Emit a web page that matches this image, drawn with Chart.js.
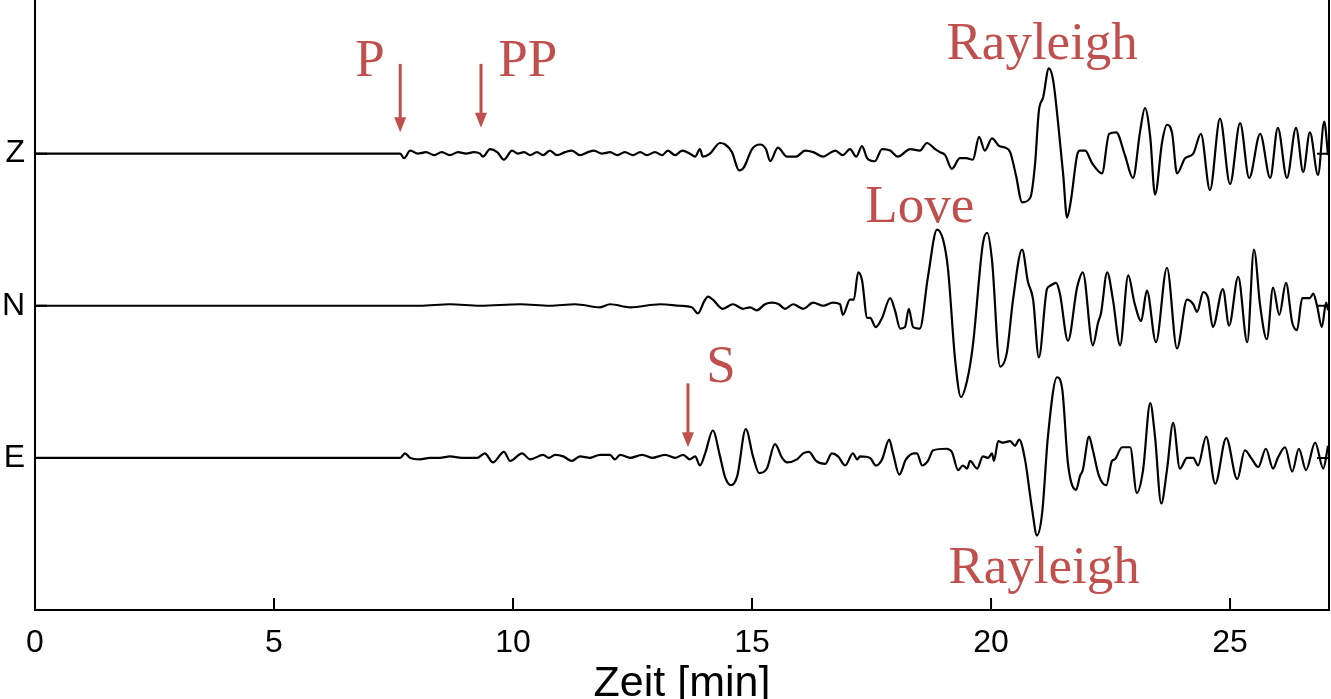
<!DOCTYPE html>
<html>
<head>
<meta charset="utf-8">
<script src="https://cdn.jsdelivr.net/npm/chart.js@4.4.1/dist/chart.umd.min.js"></script>
<style>
  html, body { margin: 0; padding: 0; background: #fff; }
  #wrap { width: 1331px; height: 699px; }
</style>
</head>
<body>
<div id="wrap"><canvas id="seismo" width="1331" height="699"></canvas></div>
<script>
/* seismogram traces: time in minutes, amplitude in % of the trace spacing */
const zTime = [0, 7.64, 7.72, 7.85, 8.01, 8.18, 8.35, 8.51, 8.68, 8.85,
  9.02, 9.18, 9.31, 9.37, 9.52, 9.67, 9.81, 9.98, 10.10, 10.23,
  10.36, 10.50, 10.63, 10.77, 10.92, 11.09, 11.23, 11.40, 11.57, 11.69,
  11.86, 12.03, 12.18, 12.34, 12.51, 12.66, 12.80, 12.97, 13.12, 13.24,
  13.39, 13.54, 13.70, 13.81, 13.91, 13.97, 14.12, 14.33, 14.44, 14.58,
  14.73, 14.83, 15.00, 15.17, 15.29, 15.38, 15.54, 15.73, 15.92, 16.11,
  16.28, 16.49, 16.61, 16.74, 16.90, 17.05, 17.18, 17.30, 17.41, 17.57,
  17.72, 17.89, 18.05, 18.31, 18.51, 18.66, 18.83, 18.93, 19.04, 19.18,
  19.35, 19.48, 19.62, 19.75, 19.87, 20.02, 20.17, 20.29, 20.40, 20.52,
  20.65, 20.82, 20.92, 21.00, 21.09, 21.21, 21.30, 21.40, 21.51, 21.59,
  21.67, 21.80, 21.86, 21.97, 22.11, 22.32, 22.47, 22.62, 22.80, 22.97,
  23.12, 23.22, 23.33, 23.43, 23.58, 23.68, 23.79, 23.89, 24.06, 24.23,
  24.39, 24.58, 24.79, 25.00, 25.21, 25.40, 25.63, 25.84, 26.00, 26.19,
  26.38, 26.53, 26.67, 26.84, 26.97, 27.05];
const zAmp = [0, 0, -3, 2, 0, 1, -1, 1, -1, 1,
  0, 1, 0, -2, 3, 1, -4, 2, 0, 1,
  -1, 1, -1, 2, -1, 1, 2, -1, 1, 2,
  0, 1, -1, 1, -1, 1, -1, 1, -1, 2,
  -1, 2, 0, -2, 3, -2, 0, 7, 6, 1,
  -11, -9, 3, 6, 3, -5, 4, -2, -2, 2,
  1, -2, 0, 2, -1, 3, -2, 5, -3, -5,
  3, 2, -2, 3, 2, 7, 3, 1, -1, -10,
  -3, -3, -4, 11, 2, 10, 5, 4, 1, -14,
  -32, -29, -7, 28, 37, 56, 48, 21, -14, -42,
  -31, -1, 2, 2, -6, -13, 13, 14, -1, -16,
  15, 30, 11, -27, 8, 19, 13, -13, -3, 0,
  13, -24, 23, -20, 20, -16, 13, -16, 17, -16,
  17, -12, 14, -14, 21, -1];

const nTime = [0, 7.64, 8.05, 8.68, 9.31, 10.15, 10.77, 11.30, 11.82, 12.03,
  12.45, 13.08, 13.49, 13.74, 13.87, 14.00, 14.08, 14.18, 14.39, 14.60,
  14.81, 14.96, 15.10, 15.27, 15.42, 15.56, 15.69, 15.86, 16.07, 16.28,
  16.49, 16.69, 16.84, 16.90, 17.05, 17.13, 17.22, 17.30, 17.41, 17.47,
  17.59, 17.72, 17.89, 17.99, 18.10, 18.20, 18.28, 18.37, 18.51, 18.68,
  18.87, 19.00, 19.10, 19.25, 19.37, 19.50, 19.62, 19.83, 19.92, 20.02,
  20.19, 20.33, 20.46, 20.65, 20.77, 20.88, 21.00, 21.17, 21.23, 21.36,
  21.44, 21.61, 21.80, 21.92, 22.13, 22.24, 22.30, 22.43, 22.55, 22.70,
  22.87, 23.00, 23.14, 23.26, 23.45, 23.68, 23.89, 24.10, 24.23, 24.31,
  24.44, 24.54, 24.64, 24.85, 24.98, 25.17, 25.36, 25.50, 25.63, 25.77,
  25.90, 26.03, 26.17, 26.30, 26.40, 26.51, 26.67, 26.74, 26.82, 26.92,
  27.01, 27.05];
const nAmp = [0, 0, 0, 1, 0, 1, 0, 1, -1, 1,
  -1, 1, 0, -1, -5, 3, 6, 4, -2, 1,
  -2, -1, -3, 1, 2, 1, -2, 1, -2, 2,
  0, 2, 1, -6, 4, 4, 22, 17, -8, -8,
  -14, -8, 5, -3, -15, -14, -2, -14, -15, 19,
  50, 43, 24, -36, -60, -49, -26, 41, 48, 30,
  -40, -31, 4, 37, 16, 4, -34, 11, 13, 15,
  8, -23, 12, 22, -26, -11, -5, 22, 4, -26,
  20, 2, -10, 10, -24, 25, -28, 4, 1, -4,
  9, 5, -14, 11, -13, 19, -24, 37, 0, -22,
  12, -6, 15, -11, -16, 5, 5, 8, 0, -14,
  2, -3];

const eTime = [0, 7.64, 7.74, 7.85, 8.05, 8.26, 8.47, 8.68, 8.93, 9.25,
  9.41, 9.58, 9.81, 9.94, 10.19, 10.36, 10.63, 10.75, 10.88, 11.05,
  11.23, 11.40, 11.61, 11.82, 12.03, 12.13, 12.24, 12.45, 12.70, 12.91,
  13.18, 13.39, 13.56, 13.70, 13.81, 13.91, 14.02, 14.18, 14.33, 14.44,
  14.56, 14.69, 14.87, 15.02, 15.15, 15.31, 15.48, 15.63, 15.73, 15.94,
  16.07, 16.19, 16.34, 16.53, 16.67, 16.80, 16.95, 17.11, 17.20, 17.26,
  17.47, 17.59, 17.72, 17.87, 17.95, 18.08, 18.22, 18.39, 18.45, 18.56,
  18.68, 18.79, 19.06, 19.18, 19.31, 19.41, 19.50, 19.56, 19.71, 19.83,
  19.94, 20.02, 20.06, 20.15, 20.25, 20.40, 20.50, 20.59, 20.71, 20.86,
  20.96, 21.07, 21.19, 21.38, 21.49, 21.61, 21.78, 21.86, 21.92, 22.05,
  22.13, 22.26, 22.41, 22.53, 22.59, 22.74, 22.91, 23.05, 23.18, 23.33,
  23.43, 23.56, 23.68, 23.81, 23.95, 24.10, 24.23, 24.33, 24.50, 24.69,
  24.92, 25.15, 25.31, 25.44, 25.59, 25.75, 25.90, 26.00, 26.15, 26.30,
  26.44, 26.59, 26.78, 26.95, 27.05];
const eAmp = [0, 0, 3, 0, -1, 0, 0, 1, 0, 0,
  3, -3, 4, -2, 3, -1, 2, 0, 2, 1,
  -2, 1, 0, 2, 2, -1, 2, 0, 2, 0,
  2, 0, 2, -1, 1, -5, 3, 18, 1, -13,
  -18, -12, 19, 1, -10, -7, 9, 0, -3, -1,
  3, 4, -2, -4, 3, 1, -5, 3, -1, 1,
  0, -5, -1, 12, 3, -11, -1, 3, 3, -5,
  -2, 5, 6, 4, -8, -5, -7, -2, -7, 1,
  0, 3, -2, 11, 10, 11, 8, 12, -1, -34,
  -51, -36, 14, 53, 45, -4, -21, -12, -8, 14,
  5, -12, -18, -2, -1, 7, 7, -23, -8, 36,
  14, -30, -8, 23, -7, 0, 0, -5, 14, -17,
  13, -14, 5, 0, -6, 6, -7, 0, 7, -9,
  6, -8, 10, -7, 8];

const traceNames = ['E', 'N', 'Z'];
const traceLevel = [1, 2, 3];
const xTicks = [0, 5, 10, 15, 20, 25];

/* phase labels (baseline position) and arrival arrows */
const phaseText = ['P', 'PP', 'Rayleigh', 'Love', 'S', 'Rayleigh'];
const phaseTime = [7.01, 10.31, 21.07, 18.51, 14.35, 21.11];
const phaseLevel = [3.51, 3.51, 3.62, 2.55, 1.50, 0.18];
const arrowTime = [7.64, 9.33, 13.66];
const arrowFrom = [3.59, 3.59, 1.49];
const arrowTo = [3.14, 3.17, 1.07];

const phaseColor = '#c0504d';
const sansFont = "'Liberation Sans', Arial, sans-serif";

const trace = function (time, amp, level) {
  return {
    data: time.map((t, i) => ({ x: t, y: level + amp[i] / 100 })),
    borderColor: '#000',
    borderWidth: 2.2,
    pointRadius: 0,
    cubicInterpolationMode: 'monotone',
    fill: false
  };
}

const seismoDecor = {
  id: 'seismoDecor',
  afterDraw(chart) {
    const { ctx, chartArea: a, scales: { x, y } } = chart;
    ctx.save();

    // frame with inward ticks
    ctx.strokeStyle = '#000';
    ctx.lineWidth = 2;
    ctx.beginPath();
    ctx.moveTo(a.left, a.top);
    ctx.lineTo(a.left, a.bottom);
    ctx.lineTo(a.right, a.bottom);
    ctx.lineTo(a.right, a.top);
    xTicks.forEach(v => {
      const px = x.getPixelForValue(v);
      ctx.moveTo(px, a.bottom);
      ctx.lineTo(px, a.bottom - 12);
    });
    traceLevel.forEach(v => {
      const py = y.getPixelForValue(v);
      ctx.moveTo(a.left, py);
      ctx.lineTo(a.left + 12, py);
      ctx.moveTo(a.right, py);
      ctx.lineTo(a.right - 12, py);
    });
    ctx.stroke();

    // arrows
    ctx.strokeStyle = phaseColor;
    ctx.fillStyle = phaseColor;
    ctx.lineWidth = 3;
    for (let i = 0; i < arrowTime.length; i++) {
      const px = x.getPixelForValue(arrowTime[i]);
      const y0 = y.getPixelForValue(arrowFrom[i]);
      const y1 = y.getPixelForValue(arrowTo[i]);
      ctx.beginPath();
      ctx.moveTo(px, y0);
      ctx.lineTo(px, y1 - 12);
      ctx.stroke();
      ctx.beginPath();
      ctx.moveTo(px - 6, y1 - 15);
      ctx.lineTo(px + 6, y1 - 15);
      ctx.lineTo(px, y1);
      ctx.closePath();
      ctx.fill();
    }

    // phase names
    ctx.font = "53px 'Liberation Serif', 'Times New Roman', serif";
    ctx.textAlign = 'center';
    ctx.textBaseline = 'alphabetic';
    for (let i = 0; i < phaseText.length; i++) {
      ctx.fillText(phaseText[i], x.getPixelForValue(phaseTime[i]), y.getPixelForValue(phaseLevel[i]));
    }
    ctx.restore();
  }
};

new Chart(document.getElementById('seismo'), {
  type: 'line',
  data: {
    datasets: [
      trace(zTime, zAmp, 3),
      trace(nTime, nAmp, 2),
      trace(eTime, eAmp, 1)
    ]
  },
  options: {
    responsive: false,
    animation: false,
    devicePixelRatio: 1,
    layout: { padding: { top: 0, right: 2, bottom: 0, left: 0 } },
    plugins: { legend: { display: false }, tooltip: { enabled: false } },
    scales: {
      x: {
        type: 'linear',
        min: 0,
        max: 27.07,
        afterBuildTicks: scale => { scale.ticks = xTicks.map(v => ({ value: v })); },
        afterFit: scale => { scale.height = 89; scale.paddingLeft = 0; scale.paddingRight = 0; },
        grid: { display: false, drawTicks: false },
        border: { display: false },
        ticks: { color: '#000', padding: 14, font: { family: sansFont, size: 32 } },
        title: {
          display: true,
          text: 'Zeit [min]',
          color: '#000',
          padding: { top: 0, bottom: 0 },
          font: { family: sansFont, size: 43, lineHeight: 0.7 }
        }
      },
      y: {
        type: 'linear',
        min: 0,
        max: 4.01,
        afterBuildTicks: scale => { scale.ticks = traceLevel.map(v => ({ value: v })); },
        afterFit: scale => { scale.width = 35; scale.paddingTop = 0; scale.paddingBottom = 0; },
        grid: { display: false, drawTicks: false },
        border: { display: false },
        ticks: {
          color: '#000',
          padding: 10,
          font: { family: sansFont, size: 32 },
          callback: value => traceNames[traceLevel.indexOf(value)]
        }
      }
    }
  },
  plugins: [seismoDecor]
});
</script>
</body>
</html>
